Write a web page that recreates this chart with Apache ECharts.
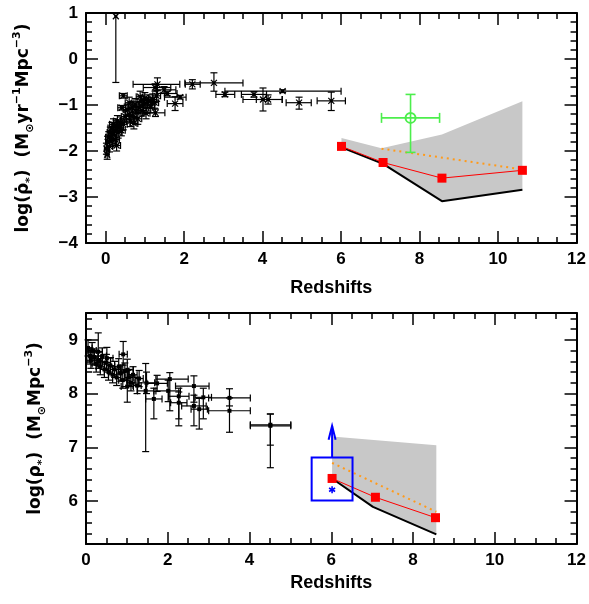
<!DOCTYPE html>
<html><head><meta charset="utf-8">
<script src="https://cdn.jsdelivr.net/npm/echarts@6/dist/echarts.min.js"></script>
<style>html,body{margin:0;padding:0;background:#fff}#c{width:589px;height:604px}</style>
</head><body><div id="c"></div>
<script>
// ---------- DATA ----------
// Top panel: star formation rate density, [z, logSFRD, dz-, dz+, dv-, dv+]
const sfrPoints = [
  [0.26, 0.93, 0, 0, 1.44, 0],
  [1.32, -0.55, 0.62, 0.57, 0.14, 0.14],
  [2.21, -0.55, 0.18, 0.2, 0.1, 0.1],
  [2.76, -0.52, 0.74, 0.74, 0.18, 0.22],
  [4.51, -0.70, 1.47, 1.49, 0.03, 0.03],
  [3.04, -0.77, 0.23, 0.25, 0.05, 0.05],
  [3.78, -0.77, 0.32, 0.32, 0.06, 0.06],
  [4.01, -0.88, 0.51, 0.49, 0.25, 0.25],
  [4.14, -0.88, 0.3, 0.36, 0.1, 0.1],
  [4.93, -0.95, 0.33, 0.31, 0.14, 0.12],
  [5.75, -0.91, 0.36, 0.36, 0.21, 0.19],
  [1.77, -0.97, 0.2, 0.2, 0.15, 0.15],
  [1.27, -1.17, 0.31, 0.24, 0.08, 0.08],
  [1.57, -0.75, 0.25, 0.25, 0.05, 0.05],
  [1.49, -0.67, 0.2, 0.3, 0.07, 0.07],
  [1.26, -0.62, 0.3, 0.4, 0.08, 0.08],
  [1.90, -0.83, 0.4, 0.15, 0.04, 0.04],
  [0.45, -0.80, 0.1, 0.1, 0.05, 0.05],
  [0.41, -1.06, 0.1, 0.1, 0.05, 0.05],
  [0.02, -1.95, 0.05, 0.05, 0.12, 0.12],
  [0.04, -2.08, 0.05, 0.05, 0.1, 0.1],
  [0.05, -1.80, 0.05, 0.05, 0.12, 0.12],
  [0.08, -1.70, 0.08, 0.08, 0.12, 0.12],
  [0.10, -1.90, 0.08, 0.08, 0.12, 0.12],
  [0.12, -1.60, 0.08, 0.08, 0.12, 0.12],
  [0.14, -1.78, 0.1, 0.1, 0.12, 0.12],
  [0.16, -1.50, 0.1, 0.1, 0.12, 0.12],
  [0.18, -1.65, 0.1, 0.1, 0.12, 0.12],
  [0.20, -1.42, 0.1, 0.1, 0.12, 0.12],
  [0.22, -1.55, 0.1, 0.1, 0.12, 0.12],
  [0.25, -1.75, 0.1, 0.1, 0.12, 0.12],
  [0.27, -1.45, 0.1, 0.1, 0.12, 0.12],
  [0.30, -1.35, 0.1, 0.1, 0.12, 0.12],
  [0.32, -1.60, 0.1, 0.1, 0.12, 0.12],
  [0.35, -1.48, 0.1, 0.1, 0.12, 0.12],
  [0.38, -1.38, 0.1, 0.1, 0.12, 0.12],
  [0.40, -1.55, 0.1, 0.1, 0.12, 0.12],
  [0.45, -1.42, 0.1, 0.1, 0.12, 0.12],
  [0.28, -1.88, 0.1, 0.1, 0.12, 0.12],
  [0.50, -1.25, 0.1, 0.1, 0.12, 0.12],
  [0.55, -1.10, 0.1, 0.1, 0.12, 0.12],
  [0.60, -1.20, 0.1, 0.1, 0.12, 0.12],
  [0.63, -1.35, 0.1, 0.1, 0.12, 0.12],
  [0.68, -1.05, 0.1, 0.1, 0.12, 0.12],
  [0.70, -1.25, 0.1, 0.1, 0.12, 0.12],
  [0.75, -0.98, 0.1, 0.1, 0.12, 0.12],
  [0.78, -1.15, 0.1, 0.1, 0.12, 0.12],
  [0.82, -1.30, 0.1, 0.1, 0.12, 0.12],
  [0.85, -1.05, 0.1, 0.1, 0.12, 0.12],
  [0.90, -0.92, 0.1, 0.1, 0.12, 0.12],
  [0.93, -1.12, 0.1, 0.1, 0.12, 0.12],
  [0.97, -1.00, 0.1, 0.1, 0.12, 0.12],
  [1.00, -0.85, 0.1, 0.1, 0.12, 0.12],
  [1.03, -1.18, 0.1, 0.1, 0.12, 0.12],
  [1.07, -0.95, 0.1, 0.1, 0.12, 0.12],
  [1.10, -0.90, 0.1, 0.1, 0.12, 0.12],
  [1.15, -1.05, 0.1, 0.1, 0.12, 0.12],
  [1.20, -0.88, 0.1, 0.1, 0.12, 0.12],
  [1.25, -0.95, 0.1, 0.1, 0.12, 0.12],
  [0.72, -1.40, 0.1, 0.1, 0.12, 0.12],
  [0.60, -0.95, 0.1, 0.1, 0.12, 0.12],
  [1.30, -0.80, 0.1, 0.1, 0.12, 0.12],
  [0.88, -0.82, 0.1, 0.1, 0.12, 0.12]
];
const sfrGreen = [[7.77, -1.28, 0.74, 0.74, 0.75, 0.51]];
const sfrRed = [[6.01, -1.90], [7.07, -2.25], [8.57, -2.59], [10.62, -2.42]];
const sfrLower = [[6.01, -1.92], [7.07, -2.28], [8.57, -3.09], [10.62, -2.84]];
const sfrUpper = [[6.01, -1.72], [7.03, -1.94], [8.57, -1.64], [10.62, -0.92]];
const sfrOrange = [[7.03, -1.95], [10.62, -2.40]];

// Bottom panel: stellar mass density, [z, logRho, dz-, dz+, dv-, dv+]
const smdPoints = [
  [4.51, 7.40, 0.49, 0.50, 0.78, 0.22],
  [4.51, 7.42, 0.49, 0.50, 0.38, 0.20],
  [3.51, 7.92, 0.51, 0.51, 0.15, 0.17],
  [3.51, 7.68, 0.51, 0.51, 0.40, 0.24],
  [2.64, 8.14, 0.45, 0.37, 0.30, 0.19],
  [2.64, 7.77, 0.30, 0.30, 0.37, 0.20],
  [2.87, 7.93, 0.20, 0.20, 0.40, 0.17],
  [2.77, 7.71, 0.20, 0.20, 0.37, 0.20],
  [2.27, 7.95, 0.25, 0.25, 0.55, 0.15],
  [2.27, 7.83, 0.20, 0.20, 0.30, 0.20],
  [2.05, 8.27, 0.34, 0.45, 0.59, 0.12],
  [2.01, 8.05, 0.30, 0.30, 0.20, 0.20],
  [1.74, 8.19, 0.25, 0.25, 0.15, 0.15],
  [1.66, 7.90, 0.20, 0.20, 0.37, 0.20],
  [1.46, 8.05, 0.20, 0.20, 1.13, 0.51],
  [1.48, 8.20, 0.20, 0.20, 0.20, 0.20],
  [1.01, 8.13, 0.15, 0.15, 0.29, 0.30],
  [1.01, 8.44, 0.15, 0.15, 0.20, 0.20],
  [0.91, 8.73, 0.10, 0.10, 0.20, 0.24],
  [0.51, 8.66, 0.15, 0.15, 0.20, 0.20],
  [0.30, 8.78, 0.10, 0.10, 0.20, 0.35],
  [0.05, 8.85, 0.05, 0.10, 0.15, 0.15],
  [0.10, 8.70, 0.10, 0.10, 0.15, 0.15],
  [0.12, 8.62, 0.10, 0.10, 0.15, 0.15],
  [0.15, 8.80, 0.10, 0.10, 0.15, 0.15],
  [0.20, 8.68, 0.10, 0.10, 0.15, 0.15],
  [0.25, 8.55, 0.10, 0.10, 0.15, 0.15],
  [0.30, 8.62, 0.10, 0.10, 0.15, 0.15],
  [0.35, 8.50, 0.10, 0.10, 0.15, 0.15],
  [0.40, 8.70, 0.10, 0.10, 0.15, 0.15],
  [0.45, 8.45, 0.10, 0.10, 0.15, 0.15],
  [0.50, 8.58, 0.10, 0.10, 0.15, 0.15],
  [0.55, 8.40, 0.10, 0.10, 0.15, 0.15],
  [0.60, 8.52, 0.10, 0.10, 0.15, 0.15],
  [0.65, 8.35, 0.10, 0.10, 0.15, 0.15],
  [0.70, 8.45, 0.10, 0.10, 0.15, 0.15],
  [0.75, 8.30, 0.10, 0.10, 0.15, 0.15],
  [0.80, 8.50, 0.10, 0.10, 0.15, 0.15],
  [0.85, 8.38, 0.10, 0.10, 0.15, 0.15],
  [0.90, 8.25, 0.10, 0.10, 0.15, 0.15],
  [0.95, 8.42, 0.10, 0.10, 0.15, 0.15],
  [1.05, 8.30, 0.10, 0.10, 0.15, 0.15],
  [1.10, 8.20, 0.10, 0.10, 0.15, 0.15],
  [1.15, 8.35, 0.10, 0.10, 0.15, 0.15],
  [1.25, 8.15, 0.10, 0.10, 0.15, 0.15],
  [1.30, 8.28, 0.10, 0.10, 0.15, 0.15]
];
const smdRed = [[6.02, 6.42], [7.08, 6.07], [8.55, 5.69]];
const smdLower = [[6.02, 6.42], [7.02, 5.89], [8.57, 5.38]];
const smdUpper = [[6.02, 7.20], [8.57, 7.04]];
const smdOrange = [[6.02, 6.71], [8.57, 5.80]];
const smdBox = [[5.52, 6.01], [6.52, 6.81]];   // [zmin, vmin], [zmax, vmax]
const smdArrow = [[6.02, 6.81], [6.02, 7.40]];
const smdStar = [[6.02, 6.21]];

// tick values
const xMajor = [0, 2, 4, 6, 8, 10, 12];
const xMinorTop = [-0.5, 0, 0.5, 1, 1.5, 2, 2.5, 3, 3.5, 4, 4.5, 5, 5.5, 6, 6.5, 7, 7.5, 8, 8.5, 9, 9.5, 10, 10.5, 11, 11.5, 12];
const xMinorBot = xMinorTop.slice(1);
const yMajorTop = [-4, -3, -2, -1, 0, 1];
const yMinorTop = [-4, -3.8, -3.6, -3.4, -3.2, -3, -2.8, -2.6, -2.4, -2.2, -2, -1.8, -1.6, -1.4, -1.2, -1, -0.8, -0.6, -0.4, -0.2, 0, 0.2, 0.4, 0.6, 0.8, 1];
const yMajorBot = [6, 7, 8, 9];
const yMinorBot = [5.2, 5.4, 5.6, 5.8, 6, 6.2, 6.4, 6.6, 6.8, 7, 7.2, 7.4, 7.6, 7.8, 8, 8.2, 8.4, 8.6, 8.8, 9, 9.2, 9.4];

// ---------- CHART ----------
const chart = echarts.init(document.getElementById('c'), null, {renderer: 'canvas'});
const FONT = 'Liberation Sans';
const lblStyle = {color: '#000', fontSize: 17, fontFamily: FONT, fontWeight: 'bold',
  formatter: v => String(v).replace('-', '\u2212')};

function axisPair(kind, grid, min, max, majors, minors, pos, withLabels, extra) {
  const base = {type: 'value', gridIndex: grid, min, max, position: pos, splitLine: {show: false}};
  const major = Object.assign({}, base, {
    axisLine: {show: true, onZero: false, lineStyle: {color: '#000', width: 2}},
    axisTick: {show: true, inside: true, length: 12, customValues: majors, lineStyle: {color: '#000', width: 1.5}},
    axisLabel: withLabels ? Object.assign({show: true, customValues: majors, margin: 8}, lblStyle) : {show: false}
  }, extra || {});
  const minor = Object.assign({}, base, {
    axisLine: {show: false, onZero: false},
    axisTick: {show: true, inside: true, length: 6, customValues: minors, lineStyle: {color: '#000', width: 1.5}},
    axisLabel: {show: false}
  });
  return [major, minor];
}

const nameStyleX = {fontSize: 18, fontWeight: 'bold', fontFamily: FONT, color: '#000'};
const richY = {
  m: {fontSize: 17, fontWeight: 'bold', fontFamily: 'DejaVu Sans', color: '#000', lineHeight: 24},
  s: {fontSize: 11, fontWeight: 'bold', fontFamily: 'DejaVu Sans', color: '#000', lineHeight: 24, verticalAlign: 'bottom', padding: [8, 0, 0, 0]},
  p: {fontSize: 11, fontWeight: 'bold', fontFamily: 'DejaVu Sans', color: '#000', lineHeight: 24, verticalAlign: 'top', padding: [0, 0, 8, 0]}
};

const xAxes = [].concat(
  axisPair('x', 0, -0.5, 12, xMajor, xMinorTop, 'bottom', true,
    {name: 'Redshifts', nameLocation: 'middle', nameGap: 36, nameTextStyle: nameStyleX}),
  axisPair('x', 0, -0.5, 12, xMajor, xMinorTop, 'top', false),
  axisPair('x', 1, 0, 12, xMajor, xMinorBot, 'bottom', true,
    {name: 'Redshifts', nameLocation: 'middle', nameGap: 30, nameTextStyle: nameStyleX}),
  axisPair('x', 1, 0, 12, xMajor, xMinorBot, 'top', false)
);
const yAxes = [].concat(
  axisPair('y', 0, -4, 1, yMajorTop, yMinorTop, 'left', true,
    {name: '{m|log(\u03C1\u0307}{s|*}{m|)  (M}{s|\u2299}{m|yr}{p|\u22121}{m|Mpc}{p|\u22123}{m|)}',
     nameLocation: 'middle', nameGap: 50, nameRotate: 90, nameTextStyle: {rich: richY}}),
  axisPair('y', 0, -4, 1, yMajorTop, yMinorTop, 'right', false),
  axisPair('y', 1, 5.2, 9.5, yMajorBot, yMinorBot, 'left', true,
    {name: '{m|log(\u03C1}{s|*}{m|)  (M}{s|\u2299}{m|Mpc}{p|\u22123}{m|)}',
     nameLocation: 'middle', nameGap: 38, nameRotate: 90, nameTextStyle: {rich: richY}}),
  axisPair('y', 1, 5.2, 9.5, yMajorBot, yMinorBot, 'right', false)
);

function errRender(color, marker, lw, cap) {
  return function (params, api) {
    const z = api.value(0), v = api.value(1);
    const dzl = api.value(2), dzh = api.value(3), dvl = api.value(4), dvh = api.value(5);
    const c = api.coord([z, v]);
    const L = api.coord([z - dzl, v]), R = api.coord([z + dzh, v]);
    const T = api.coord([z, v + dvh]), B = api.coord([z, v - dvl]);
    const st = {stroke: color, lineWidth: lw, fill: null};
    const ch = [];
    const ln = (x1, y1, x2, y2) => ch.push({type: 'line', shape: {x1, y1, x2, y2}, style: st});
    if (dzl > 0 || dzh > 0) {
      ln(L[0], L[1], R[0], R[1]);
      if (dzl > 0) ln(L[0], L[1] - cap, L[0], L[1] + cap);
      if (dzh > 0) ln(R[0], R[1] - cap, R[0], R[1] + cap);
    }
    if (dvl > 0 || dvh > 0) {
      ln(T[0], T[1], B[0], B[1]);
      if (dvh > 0) ln(T[0] - cap, T[1], T[0] + cap, T[1]);
      if (dvl > 0) ln(B[0] - cap, B[1], B[0] + cap, B[1]);
    }
    if (marker === 'x') {
      ln(c[0] - 3, c[1] - 3, c[0] + 3, c[1] + 3);
      ln(c[0] - 3, c[1] + 3, c[0] + 3, c[1] - 3);
      ch.push({type: 'rect', shape: {x: c[0] - 1.5, y: c[1] - 1.5, width: 3, height: 3}, style: {fill: color}});
    } else if (marker === 'sq') {
      ch.push({type: 'rect', shape: {x: c[0] - 2, y: c[1] - 2, width: 4, height: 4}, style: {fill: color}});
    } else if (marker === 'circ') {
      ch.push({type: 'circle', shape: {cx: c[0], cy: c[1], r: 5}, style: {stroke: color, lineWidth: 2, fill: null}});
    }
    return {type: 'group', children: ch};
  };
}

function polyRender(pts) {
  return function (params, api) {
    return {type: 'polygon', shape: {points: pts.map(p => api.coord(p))}, style: {fill: '#c8c8c8'}};
  };
}

const sfrPoly = sfrUpper.concat(sfrLower.slice().reverse());
const smdPoly = smdUpper.concat(smdLower.slice().reverse());

const series = [
  // ---- top panel ----
  {type: 'custom', xAxisIndex: 0, yAxisIndex: 0, data: [[7, -2]], renderItem: polyRender(sfrPoly), silent: true, z: 1},
  {type: 'line', xAxisIndex: 0, yAxisIndex: 0, data: sfrLower, symbol: 'none', lineStyle: {color: '#000', width: 2}, z: 2},
  {type: 'line', xAxisIndex: 0, yAxisIndex: 0, data: sfrOrange, symbol: 'none', lineStyle: {color: '#ff9a1a', width: 2, type: [2, 4]}, z: 3},
  {type: 'line', xAxisIndex: 0, yAxisIndex: 0, data: sfrRed, symbol: 'rect', symbolSize: 9, itemStyle: {color: '#ff0000'}, lineStyle: {color: '#ff0000', width: 1}, z: 4},
  {type: 'custom', xAxisIndex: 0, yAxisIndex: 0, data: sfrPoints, renderItem: errRender('#000', 'x', 1.2, 3.5), z: 5},
  {type: 'custom', xAxisIndex: 0, yAxisIndex: 0, data: sfrGreen, renderItem: errRender('#4cee4c', 'circ', 1.6, 5), z: 6},
  // ---- bottom panel ----
  {type: 'custom', xAxisIndex: 4, yAxisIndex: 4, data: [[7, 6]], renderItem: polyRender(smdPoly), silent: true, z: 1},
  {type: 'line', xAxisIndex: 4, yAxisIndex: 4, data: smdLower, symbol: 'none', lineStyle: {color: '#000', width: 2}, z: 2},
  {type: 'line', xAxisIndex: 4, yAxisIndex: 4, data: smdOrange, symbol: 'none', lineStyle: {color: '#ff9a1a', width: 2, type: [2, 4]}, z: 3},
  {type: 'line', xAxisIndex: 4, yAxisIndex: 4, data: smdRed, symbol: 'rect', symbolSize: 9, itemStyle: {color: '#ff0000'}, lineStyle: {color: '#ff0000', width: 1}, z: 4},
  {type: 'custom', xAxisIndex: 4, yAxisIndex: 4, data: smdPoints, renderItem: errRender('#000', 'sq', 1.2, 3.5), z: 5},
  {type: 'custom', xAxisIndex: 4, yAxisIndex: 4, data: [[smdBox[0][0], smdBox[0][1]]], z: 6,
    renderItem: function (params, api) {
      const a = api.coord(smdBox[0]), b = api.coord(smdBox[1]);
      const p0 = api.coord(smdArrow[0]), p1 = api.coord(smdArrow[1]);
      const s = api.coord(smdStar[0]);
      const st = {stroke: '#0000ff', lineWidth: 2, fill: null};
      const ch = [
        {type: 'rect', shape: {x: a[0], y: b[1], width: b[0] - a[0], height: a[1] - b[1]}, style: st},
        {type: 'line', shape: {x1: p0[0], y1: p0[1], x2: p1[0], y2: p1[1]}, style: st},
        {type: 'polyline', shape: {points: [[p1[0] - 3.5, p1[1] + 14], [p1[0], p1[1]], [p1[0] + 3.5, p1[1] + 14]]}, style: st}
      ];
      const r = 3.5, sst = {stroke: '#0000ff', lineWidth: 1.6};
      for (let k = 0; k < 3; k++) {
        const ang = Math.PI / 2 + k * Math.PI / 3;
        ch.push({type: 'line', shape: {x1: s[0] - r * Math.cos(ang), y1: s[1] - r * Math.sin(ang), x2: s[0] + r * Math.cos(ang), y2: s[1] + r * Math.sin(ang)}, style: sst});
      }
      return {type: 'group', children: ch};
    }}
];

chart.setOption({
  animation: false,
  backgroundColor: '#fff',
  grid: [
    {left: 86, top: 13, width: 491, height: 230, containLabel: false},
    {left: 86, top: 313, width: 491, height: 231, containLabel: false}
  ],
  xAxis: xAxes,
  yAxis: yAxes,
  series: series
});
</script></body></html>
